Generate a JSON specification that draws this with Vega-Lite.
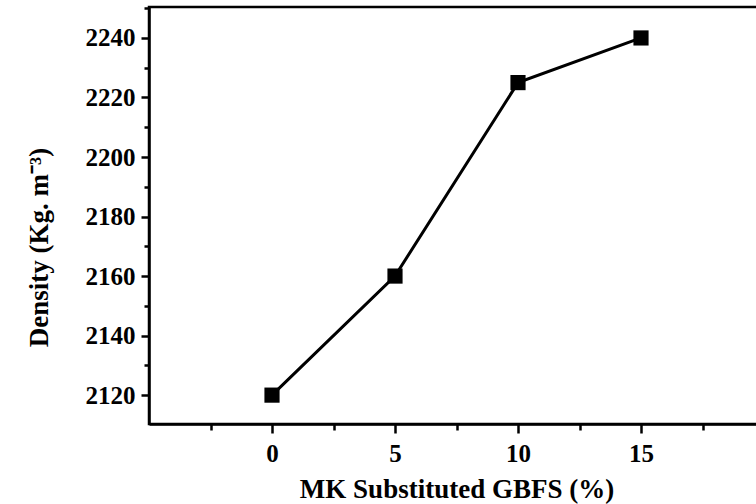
{
  "$schema": "https://vega.github.io/schema/vega-lite/v6.json",
  "autosize": {"type": "none"},
  "padding": {"left": 149, "top": 7, "right": 0, "bottom": 80},
  "width": 615,
  "height": 417,
  "background": "white",
  "config": {
    "view": {"stroke": "black", "strokeWidth": 2.5},
    "axis": {
      "labelFont": "Liberation Serif",
      "labelFontWeight": "bold",
      "labelFontSize": 25,
      "labelColor": "black",
      "titleFont": "Liberation Serif",
      "titleFontWeight": "bold",
      "titleFontSize": 27,
      "titleColor": "black",
      "domainColor": "black",
      "domainWidth": 2.5,
      "tickColor": "black",
      "tickWidth": 2.5,
      "grid": false
    }
  },
  "data": {
    "values": [
      {"mk": 0, "density": 2120},
      {"mk": 5, "density": 2160},
      {"mk": 10, "density": 2225},
      {"mk": 15, "density": 2240}
    ]
  },
  "mark": {"type": "line", "color": "black", "strokeWidth": 3, "point": {"shape": "square", "size": 230, "filled": true, "color": "black", "opacity": 1}},
  "encoding": {
    "x": {
      "field": "mk",
      "type": "quantitative",
      "scale": {"domain": [-5, 20], "nice": false, "zero": false},
      "axis": {
        "title": "MK Substituted GBFS (%)",
        "format": "d",
        "values": [-2.5, 0, 2.5, 5, 7.5, 10, 12.5, 15, 17.5],
        "labelExpr": "datum.value % 5 == 0 ? format(datum.value, 'd') : ''",
        "tickSize": {"condition": {"test": "datum.value % 5 == 0", "value": 9}, "value": 6},
        "labelPadding": 8,
        "titlePadding": 10
      }
    },
    "y": {
      "field": "density",
      "type": "quantitative",
      "scale": {"domain": [2110.3, 2250.4], "nice": false, "zero": false},
      "axis": {
        "title": "Density (Kg. m⁻³)",
        "values": [2110, 2120, 2130, 2140, 2150, 2160, 2170, 2180, 2190, 2200, 2210, 2220, 2230, 2240, 2250],
        "labelExpr": "datum.value % 20 == 0 ? format(datum.value, 'd') : ''",
        "tickSize": {"condition": {"test": "datum.value % 20 == 0", "value": 8}, "value": 5},
        "labelPadding": 6,
        "titlePadding": 32,
        "titleY": 240
      }
    }
  }
}
